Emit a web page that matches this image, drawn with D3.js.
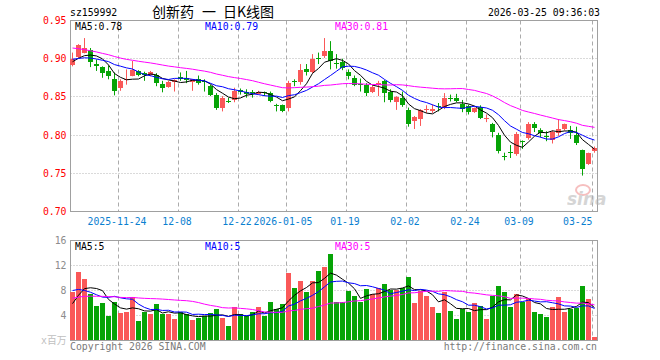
<!DOCTYPE html>
<html><head><meta charset="utf-8">
<script src="https://cdn.jsdelivr.net/npm/d3@7"></script>
<style>body{margin:0;background:#fff}svg{display:block}</style>
</head><body>
<svg id="c" width="660" height="360"></svg>
<script>
// ---------- data ----------
const dates = [
"2025-11-12","2025-11-13","2025-11-14","2025-11-17","2025-11-18","2025-11-19","2025-11-20","2025-11-21",
"2025-11-24","2025-11-25","2025-11-26","2025-11-27","2025-11-28","2025-12-01","2025-12-02","2025-12-03","2025-12-04","2025-12-05",
"2025-12-08","2025-12-09","2025-12-10","2025-12-11","2025-12-12","2025-12-15","2025-12-16","2025-12-17","2025-12-18","2025-12-19",
"2025-12-22","2025-12-23","2025-12-24","2025-12-25","2025-12-26","2025-12-29","2025-12-30","2025-12-31",
"2026-01-05","2026-01-06","2026-01-07","2026-01-08","2026-01-09","2026-01-12","2026-01-13","2026-01-14","2026-01-15","2026-01-16",
"2026-01-19","2026-01-20","2026-01-21","2026-01-22","2026-01-23","2026-01-26","2026-01-27","2026-01-28","2026-01-29","2026-01-30",
"2026-02-02","2026-02-03","2026-02-04","2026-02-05","2026-02-06","2026-02-09","2026-02-10","2026-02-11","2026-02-12","2026-02-13",
"2026-02-24","2026-02-25","2026-02-26","2026-02-27","2026-03-02","2026-03-03","2026-03-04","2026-03-05","2026-03-06",
"2026-03-09","2026-03-10","2026-03-11","2026-03-12","2026-03-13","2026-03-16","2026-03-17","2026-03-18","2026-03-19","2026-03-20",
"2026-03-23","2026-03-24","2026-03-25"];

const open = [
.892,.902,.908,.912,.893,.889,.884,.873,.861,.872,
.878,.884,.881,.879,.879,.867,.863,.869,.876,.875,
.869,.874,.871,.864,.853,.836,.845,.846,.859,.856,
.856,.854,.856,.855,.840,.839,.836,.871,.869,.887,
.882,.901,.903,.910,.895,.896,.883,.875,.867,.866,
.857,.865,.871,.857,.843,.849,.833,.818,.821,.833,
.831,.838,.837,.848,.848,.841,.838,.830,.837,.822,
.814,.800,.772,.778,.775,.792,.796,.815,.807,.799,
.793,.803,.808,.807,.800,.780,.762,.779];
const high = [
.908,.919,.927,.914,.899,.890,.891,.882,.873,.886,
.897,.885,.883,.884,.881,.871,.871,.873,.882,.884,
.873,.878,.873,.866,.855,.851,.849,.862,.861,.860,
.859,.858,.857,.857,.841,.840,.871,.873,.893,.893,
.906,.908,.927,.923,.906,.900,.886,.878,.874,.868,
.865,.871,.872,.860,.851,.857,.836,.825,.834,.839,
.840,.842,.855,.853,.854,.846,.840,.836,.839,.827,
.816,.803,.777,.787,.804,.793,.817,.817,.809,.805,
.806,.821,.815,.812,.811,.781,.777,.785];
const low = [
.890,.901,.907,.889,.884,.875,.873,.852,.858,.866,
.877,.877,.871,.877,.864,.856,.862,.857,.871,.868,
.858,.866,.857,.851,.833,.831,.842,.843,.853,.849,
.849,.853,.851,.843,.831,.830,.831,.864,.866,.878,
.881,.893,.901,.886,.887,.885,.873,.864,.857,.851,
.855,.851,.843,.843,.833,.837,.811,.808,.812,.829,
.829,.831,.834,.844,.843,.830,.827,.829,.821,.817,
.797,.776,.767,.770,.773,.782,.794,.804,.797,.792,
.789,.799,.806,.795,.787,.747,.761,.777];
const close = [
.900,.918,.914,.896,.890,.881,.878,.858,.871,.874,
.885,.879,.879,.883,.868,.862,.869,.872,.873,.872,
.873,.868,.869,.852,.836,.849,.843,.858,.857,.854,
.855,.857,.855,.844,.838,.831,.868,.869,.885,.883,
.899,.900,.910,.897,.894,.888,.877,.866,.866,.855,
.863,.868,.855,.846,.850,.839,.814,.824,.833,.834,
.834,.837,.849,.847,.844,.834,.830,.835,.822,.823,
.804,.779,.771,.777,.802,.791,.814,.809,.803,.798,
.804,.808,.814,.803,.790,.755,.777,.783];
// volume, millions
const volume = [
7.7,10.9,9.9,7.5,5.6,6.0,3.9,6.2,4.4,4.6,
7.0,3.2,4.5,4.2,5.8,4.3,4.2,3.4,4.5,4.3,
3.3,3.6,3.9,4.4,5.0,3.6,2.4,5.4,4.3,3.9,
4.6,5.3,3.9,6.1,5.1,5.8,10.8,8.4,9.6,7.8,
9.5,11.1,11.7,13.8,6.2,6.2,8.0,7.2,6.1,8.2,
7.5,8.4,9.0,8.1,8.1,8.4,10.1,6.0,8.0,7.1,
5.4,4.4,7.7,4.8,3.4,5.1,4.6,6.0,5.6,3.4,
7.1,8.8,7.8,5.4,7.4,6.2,6.8,4.6,4.3,3.7,
5.4,7.0,4.6,5.1,5.2,8.8,6.6,0.6];
// 29 earlier sessions (off-chart) used only for the moving averages
const priceHistory = [
.945,.950,.942,.935,.938,.930,.928,.933,.925,.920,
.918,.912,.915,.908,.905,.910,.902,.906,.900,.904,
.908,.905,.900,.902,.898,.895,.897,.892,.896];
const volHistory = [
5.5,6.2,7.0,5.8,6.5,5.2,6.8,7.4,5.9,6.1,
5.6,6.3,5.4,6.6,5.9,6.2,5.7,6.4,5.8,6.7,
9.2,11.5,10.4,9.6,9.8,4.2,4.6,6.8,6.2];

const priceTicks = [0.70,0.75,0.80,0.85,0.90,0.95];
const volTicks = [4,8,12,16];
const tickDates = ["2025-11-24","2025-12-08","2025-12-22","2026-01-05","2026-01-19","2026-02-02","2026-02-24","2026-03-09","2026-03-25"];
const tickLabels = ["2025-11-24","12-08","12-22","2026-01-05","01-19","02-02","02-24","03-09","03-25"];
const maPeriods = [5,10,30];
const priceLegend = ["MA5:0.78","MA10:0.79","MA30:0.81"];
const volLegend = ["MA5:5","MA10:5","MA30:5"];
const symbol = "sz159992";
const titleParts = ["创新药","一","日K线图"];
const stamp = "2026-03-25 09:36:03";

// ---------- drawing ----------
const svg = d3.select("#c");
const MONO = "'DejaVu Sans Mono', 'Liberation Mono', monospace";
const FS = 9.8;
const RED = "#fa5858", GREEN = "#06a406";
const maColors = ["#000000","#0000ff","#ff00ff"];
const L = 70.5, R = 597.5;
const P = {top:20.5, bottom:211.5};
const V = {top:240.5, bottom:340.5};

const x = d3.scaleLinear().domain([0, dates.length-1]).range([72.5, 72.5 + 6*(dates.length-1)]);
const y = d3.scaleLinear().domain([0.70,0.95]).range([P.bottom, P.top]);
const yv = d3.scaleLinear().domain([0,16]).range([V.bottom, V.top]);

function movingAvg(hist, arr, n){
  const all = hist.concat(arr);
  return arr.map((_, i) => { const j = i + hist.length; return d3.mean(all.slice(j-n+1, j+1)); });
}

const tickIdx = tickDates.map(d => dates.indexOf(d));

function panel(top, bottom, yScale, ticks, skipEdge){
  const g = svg.append("g");
  ticks.filter(t => !skipEdge.includes(t)).forEach(t => {
    const yy = Math.round(yScale(t) - 0.5) + 0.5;
    g.append("line").attr("x1",L).attr("x2",R).attr("y1",yy).attr("y2",yy)
      .attr("stroke","#b4b4b4").attr("stroke-dasharray","1,2");
  });
  tickIdx.forEach(i => {
    const xx = x(i) - 2;
    g.append("line").attr("x1",xx).attr("x2",xx).attr("y1",top).attr("y2",bottom)
      .attr("stroke","#ababab").attr("stroke-dasharray","4,3");
  });
  g.append("rect").attr("x",L).attr("y",top).attr("width",R-L).attr("height",bottom-top)
    .attr("fill","none").attr("stroke","#a0a0a0");
  return g;
}

panel(P.top, P.bottom, y, priceTicks, [0.70,0.95]);
panel(V.top, V.bottom, yv, volTicks, [16]);

// sina watermark
const wm = svg.append("g").attr("opacity",0.55);
wm.append("ellipse").attr("cx",583).attr("cy",190).attr("rx",7).attr("ry",5)
  .attr("fill","none").attr("stroke","#f08c8c").attr("stroke-width",2);
wm.append("text").attr("x",567).attr("y",205).attr("font-family","'DejaVu Sans', sans-serif")
  .attr("font-size",17).attr("font-weight","bold").attr("font-style","italic")
  .attr("fill","#b4b4b4").text("sina");

// candles
const up = i => close[i] >= open[i];
const cg = svg.append("g");
d3.range(dates.length).forEach(i => {
  const col = up(i) ? RED : GREEN;
  cg.append("line").attr("x1",x(i)).attr("x2",x(i)).attr("y1",y(high[i])).attr("y2",y(low[i]))
    .attr("stroke",col);
  const yTop = Math.round(y(Math.max(open[i],close[i])));
  const yBot = Math.round(y(Math.min(open[i],close[i])));
  cg.append("rect").attr("x",x(i)-2.5).attr("y",yTop).attr("width",5).attr("height",Math.max(1,yBot-yTop))
    .attr("fill",col);
});

// volume bars
const vg = svg.append("g");
d3.range(dates.length).forEach(i => {
  const yt = Math.round(yv(volume[i]));
  vg.append("rect").attr("x",x(i)-2.5).attr("y",yt).attr("width",5).attr("height",Math.max(1, 340 - yt))
    .attr("fill", up(i) ? RED : GREEN);
});

// moving averages
maPeriods.forEach((n, k) => {
  const pm = movingAvg(priceHistory, close, n);
  svg.append("path").datum(pm)
    .attr("d", d3.line().x((d,i)=>x(i)).y(d=>y(d)))
    .attr("fill","none").attr("stroke",maColors[k]).attr("stroke-width",1);
  const vm = movingAvg(volHistory, volume, n);
  svg.append("path").datum(vm)
    .attr("d", d3.line().x((d,i)=>x(i)).y(d=>yv(d)))
    .attr("fill","none").attr("stroke",maColors[k]).attr("stroke-width",1);
});

// legends
const legX = [75, 205, 335];
priceLegend.forEach((t,k) => svg.append("text").attr("x",legX[k]).attr("y",30)
  .attr("font-family",MONO).attr("font-size",FS).attr("fill",maColors[k]).text(t));
volLegend.forEach((t,k) => svg.append("text").attr("x",legX[k]).attr("y",250)
  .attr("font-family",MONO).attr("font-size",FS).attr("fill",maColors[k]).text(t));

// y labels
priceTicks.forEach(t => svg.append("text").attr("x",66.5).attr("y",y(t)+3.5)
  .attr("text-anchor","end").attr("font-family",MONO).attr("font-size",FS)
  .attr("fill","#ff0000").text(d3.format(".2f")(t)));
volTicks.forEach(t => svg.append("text").attr("x",66.5).attr("y",yv(t)+3.5)
  .attr("text-anchor","end").attr("font-family",MONO).attr("font-size",FS)
  .attr("fill","#8c8c8c").text(t));
svg.append("text").attr("x",66.5).attr("y",yv(0)+3.5).attr("text-anchor","end")
  .attr("font-family","'DejaVu Sans Mono','Noto Sans CJK SC',monospace").attr("font-size",FS)
  .attr("fill","#c0c0c0").text("x百万");

// x labels
tickLabels.forEach((t,k) => {
  const i = tickIdx[k];
  let xx = x(i) - 3.5, anchor = "middle";
  if (k === tickLabels.length-1){ xx = R - 5; anchor = "end"; }
  if (t.length > 5 && k > 0) xx -= 2;
  svg.append("text").attr("x",xx).attr("y",225).attr("text-anchor",anchor)
    .attr("font-family",MONO).attr("font-size",FS).attr("fill","#0a80d0").text(t);
});

// header
svg.append("text").attr("x",70).attr("y",16).attr("font-family",MONO).attr("font-size",FS)
  .attr("fill","#000").text(symbol);
const titleX = [152, 202, 223];
titleParts.forEach((t,k) => svg.append("text").attr("x",titleX[k]).attr("y",17)
  .attr("font-family","'Noto Sans CJK SC', sans-serif").attr("font-size",14).attr("fill","#000").text(t));
svg.append("text").attr("x",600).attr("y",16).attr("text-anchor","end").attr("font-family",MONO)
  .attr("font-size",FS).attr("fill","#000").text(stamp);

// footer
svg.append("text").attr("x",70).attr("y",350).attr("font-family",MONO).attr("font-size",FS)
  .attr("fill","#7a7a7a").text("Copyright 2026 SINA.COM");
svg.append("text").attr("x",597).attr("y",350).attr("text-anchor","end").attr("font-family",MONO)
  .attr("font-size",FS).attr("fill","#7a7a7a").text("http://finance.sina.com.cn");
</script>
</body></html>
